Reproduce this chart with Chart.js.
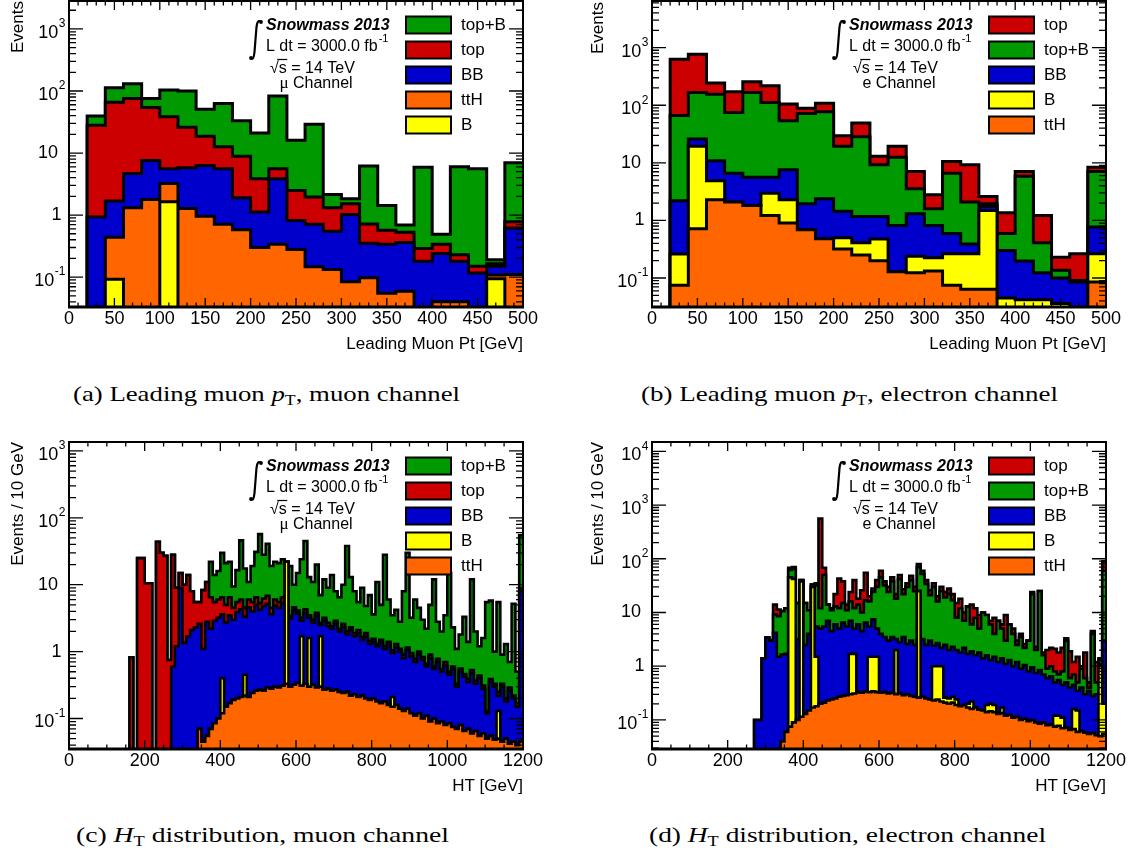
<!DOCTYPE html>
<html><head><meta charset="utf-8">
<script src="https://cdn.jsdelivr.net/npm/chart.js@4.4.1/dist/chart.umd.min.js"></script>
<style>
html,body{margin:0;padding:0;background:#fff;}
body{width:1131px;height:857px;position:relative;overflow:hidden;}
canvas{position:absolute;}
.cap{position:absolute;font-family:'Liberation Serif','Times New Roman',serif;font-size:21px;line-height:24px;color:#000;white-space:nowrap;transform-origin:0 50%;}
.cap sub{font-size:14px;vertical-align:-4px;line-height:0;font-style:normal}
</style></head><body>
<canvas id="pa" width="566" height="360" style="left:0;top:0"></canvas>
<canvas id="pb" width="551" height="360" style="left:580px;top:0"></canvas>
<canvas id="pc" width="566" height="380" style="left:0;top:425px"></canvas>
<canvas id="pd" width="551" height="380" style="left:580px;top:425px"></canvas>
<div class="cap" data-w="387" style="left:73px;top:382px">(a) Leading muon <i>p</i><sub>T</sub>, muon channel</div>
<div class="cap" data-w="417" style="left:641px;top:382px">(b) Leading muon <i>p</i><sub>T</sub>, electron channel</div>
<div class="cap" data-w="373" style="left:76px;top:823px">(c) <i>H</i><sub>T</sub> distribution, muon channel</div>
<div class="cap" data-w="397" style="left:649px;top:823px">(d) <i>H</i><sub>T</sub> distribution, electron channel</div>
<script>
// ---------- categories / bin edges ----------
const ptEdges = [0,20,40,60,80,100,120,140,160,180,200,220,240,260,280,300,320,340,360,380,400,420,440,460,480,500];
const htEdges = [0,10,20,30,40,50,60,70,80,90,100,110,120,130,140,150,160,170,180,190,200,210,220,230,240,250,260,270,280,290,300,310,320,330,340,350,360,370,380,390,400,410,420,430,440,450,460,470,480,490,500,510,520,530,540,550,560,570,580,590,600,610,620,630,640,650,660,670,680,690,700,710,720,730,740,750,760,770,780,790,800,810,820,830,840,850,860,870,880,890,900,910,920,930,940,950,960,970,980,990,1000,1010,1020,1030,1040,1050,1060,1070,1080,1090,1100,1110,1120,1130,1140,1150,1160,1170,1180,1190,1200];
// tick labels
const ptTicks = [0,50,100,150,200,250,300,350,400,450,500];
const htTicks = [0,200,400,600,800,1000,1200];
const logTicks3 = [0.1,1,10,100,1000];
const logTicks4 = [0.1,1,10,100,1000,10000];

// ---------- (a) leading muon pT, muon channel : stacked levels as drawn ----------
const a_B    = [0,0,0.092,0,0,1.64,0,0,0,0,0,0,0,0,0,0,0,0,0,0,0,0,0,0.094,0];
const a_ttH  = [0,0,0.44,1.31,1.79,3.24,1.28,0.96,0.71,0.58,0.30,0.34,0.28,0.147,0.133,0.084,0.098,0.055,0.059,0,0.04,0.04,0,0.108,0.11];
const a_BB   = [0,0.93,1.68,4.7,7.6,5.6,5.8,6.3,5.6,1.9,1.12,3.86,0.82,0.71,0.55,1.02,0.35,0.34,0.36,0.18,0.24,0.18,0.117,0.15,0.62];
const a_top  = [0,28,66,76,54,38.5,26,18.7,12.6,8.9,3.86,5.6,2.5,1.95,1.31,1.52,0.72,0.57,0.53,0.29,0.34,0.23,0.15,0.164,0.78];
const a_topB = [0,39.5,113,131,76,104,100,50.6,63,33,21,83,16,29,2.15,1.83,6.2,1.43,0.69,5.9,0.49,6.0,5.6,0.19,7.0];

// ---------- (b) leading muon pT, electron channel ----------
const b_ttH  = [0,0.075,0.72,2.28,2.08,1.82,1.22,0.90,0.69,0.48,0.32,0.25,0.20,0.128,0.123,0.133,0.075,0.064,0.064,0,0,0,0,0,0.085];
const b_B    = [0,0.26,19.4,4.9,2.08,1.82,2.97,2.28,0.69,0.48,0.50,0.41,0.475,0.128,0.238,0.226,0.265,0.265,1.49,0.045,0.042,0.042,0.036,0,0.265];
const b_BB   = [0,2.2,26,10.9,6.6,5.6,5.6,7.6,1.94,2.37,1.45,1.17,1.17,0.82,1.30,0.82,0.59,0.39,1.77,0.30,0.198,0.123,0.10,0.085,0.77];
const b_topB = [0,66,167,155,75,167,112,54,72,77,19.4,28.4,9.3,12.5,3.53,1.59,6.6,2.08,1.94,0.59,5.85,0.41,0.136,0.091,7.1];
const b_top  = [0,630,767,242,171,255,217,105,89,108,29.6,49,13,19.4,7.1,2.78,10.5,9.3,2.6,1.36,7.1,1.22,0.23,0.265,8.4];

// ---------- (c) HT, muon channel ----------
const c_ttH = [0,0,0,0,0,0,0,0,0,0,0,0,0,0,0,0,0,0,0,0,0,0,0,0,0,0,0,0,0,0,0,0,0,0,
 0.07,0.045,0.055,0.07,0.085,0.1,0.12,0.15,0.17,0.19,
 0.2,0.21,0.22,0.21,0.24,0.26,0.27,0.26,0.29,0.28,
 0.3,0.29,0.31,0.33,0.3,0.32,0.34,0.31,0.33,0.3,
 0.32,0.29,0.3,0.27,0.28,0.26,0.27,0.25,0.24,0.25,
 0.22,0.23,0.21,0.22,0.2,0.19,0.2,0.18,0.17,0.18,
 0.16,0.15,0.16,0.14,0.13,0.14,0.12,0.11,0.12,0.1,
 0.11,0.09,0.1,0.085,0.09,0.08,0.085,0.075,0.07,0.08,
 0.065,0.07,0.06,0.065,0.055,0.06,0.05,0.055,0.048,0.05,
 0.045,0.05,0.042,0.045,0.04,0.045];
const c_B = [0,0,0,0,0,0,0,0,0,0,0,0,0,0,0,0,0,0,0,0,0,0,0,0,0,0,0,0,0,0,0,0,0,0,
 0.07,0.045,0.055,0.07,0.085,0.1,0.4,0.15,0.17,0.19,
 0.2,0.21,0.45,0.21,0.24,0.26,0.27,0.26,0.29,0.28,
 0.3,0.29,0.31,22,0.3,0.32,0.34,1.7,0.33,1.6,
 0.32,0.29,1.7,0.27,0.28,0.26,0.27,0.25,0.24,0.25,
 0.22,0.23,0.21,0.22,0.2,0.19,0.2,0.18,0.17,0.18,
 0.16,0.21,0.16,0.14,0.13,0.14,0.12,0.11,0.12,0.1,
 0.11,0.09,0.1,0.085,0.09,0.08,0.085,0.075,0.07,0.08,
 0.065,0.07,0.06,0.065,0.055,0.06,0.05,0.055,0.048,0.13,
 0.045,0.05,0.042,0.045,0.04,0.045];
const c_BB = [0,0,0,0,0,0,0,0,0,0,0,0,0,0,0,0,0,0,0,0,0,0,0,0,0,0,0,
 0.6,1.2,9,1.35,1.7,2.1,2.3,2.6,1.1,2.8,
 2.2,2.9,3.2,3.6,2.7,3.5,3.0,3.9,4.3,3.3,
 4.6,4.0,5.0,4.2,4.8,5.2,3.6,4.9,4.5,5.3,
 22,3.1,4.2,3.7,2.9,3.8,3.2,2.7,3.4,2.5,
 2.9,2.4,2.2,2.6,2.0,2.3,1.8,2.1,1.7,1.9,
 1.5,1.7,1.3,1.4,1.2,1.35,1.1,1.25,0.95,1.15,
 1.0,0.8,1.05,0.85,0.7,0.9,0.75,0.6,0.8,0.55,
 0.7,0.5,0.62,0.45,0.55,0.3,0.5,0.42,0.35,0.48,
 0.33,0.4,0.28,0.12,0.35,0.3,0.22,0.3,0.18,0.26,
 0.2,0.15,8];
const c_top = [0,0,0,0,0,0,0,0,0,0,0,0,0,0,0,0,
 0.82,0,25,25,10.5,10.5,0,44,30,27,
 0.75,28,9,15,10,14,8,5.5,5.5,8.3,
 11,6.5,5.5,6,6.5,5,6.5,4.5,5.5,6,
 4.5,6,5.5,6.5,5.3,6.2,6.8,4.5,6,5.5,
 6.5,22,3.4,4.6,4.1,3.2,4.3,3.5,3.0,3.8,
 2.7,3.2,2.7,2.4,2.9,2.2,2.6,2.0,2.3,1.9,
 2.1,1.65,1.9,1.45,1.55,1.3,1.5,1.2,1.4,1.05,
 1.3,1.1,0.9,1.15,0.95,0.78,1.0,0.83,0.66,0.9,
 0.6,0.78,0.55,0.7,0.5,0.6,0.33,0.56,0.46,0.39,
 0.53,0.37,0.44,0.31,0.13,0.39,0.33,0.25,0.33,0.2,
 0.29,0.22,0.17,8.8];
const c_topB = [0,0,0,0,0,0,0,0,0,0,0,0,0,0,0,0,
 0.82,0,25,25,10.5,10.5,0,44,30,27,
 0.75,28,9,15,10,14,8,5.5,5.5,8.3,
 11,22,14,16,30,21,22,9.4,16.5,46,
 17.5,11,19,31,57,28,41,19,22,21,
 24,22,19,10,15,24,45,13,11,20,
 7,12,9,14,8,6.5,10,38,13,8,
 5.5,9,4.8,7,3.6,11,5,28,6,3.5,
 4.2,2.8,8,30,3.2,6,4.5,3.0,2.2,5,
 12,2.8,2.0,3.5,15,2.3,1.1,1.8,3.3,1.4,
 12,2.0,1.2,1.6,5.5,5.8,1.0,5.5,0.9,1.3,
 0.7,5.2,0.5,55];

// ---------- (d) HT, electron channel ----------
const d_ttH = [0,0,0,0,0,0,0,0,0,0,0,0,0,0,0,0,0,0,0,0,0,0,0,0,0,0,0,0,0,0,0,0,0,0,
 0.04,0.06,0.075,0.09,0.1,0.115,0.13,0.15,0.17,0.18,
 0.2,0.21,0.23,0.24,0.25,0.27,0.28,0.29,0.3,0.31,
 0.33,0.32,0.34,0.33,0.34,0.33,0.32,0.33,0.31,0.32,
 0.3,0.31,0.29,0.3,0.28,0.27,0.26,0.27,0.25,0.24,
 0.23,0.24,0.22,0.21,0.2,0.21,0.19,0.18,0.19,0.17,
 0.16,0.17,0.155,0.15,0.14,0.145,0.14,0.13,0.135,0.12,
 0.125,0.11,0.115,0.1,0.105,0.095,0.1,0.09,0.085,0.09,
 0.08,0.082,0.075,0.078,0.07,0.072,0.065,0.068,0.06,0.062,
 0.058,0.055,0.057,0.052,0.05,0.055];
const d_B = [0,0,0,0,0,0,0,0,0,0,0,0,0,0,0,0,0,0,0,0,0,0,0,0,0,0,0,0,0,0,0,0,0,0,
 0.04,0.06,45,42,0.1,38,0.13,0.15,30,1.5,
 0.2,0.21,0.23,0.24,0.25,0.27,0.28,0.29,1.7,1.7,
 0.33,0.32,0.34,1.5,1.5,1.5,0.32,0.33,0.31,0.32,
 2.0,0.31,0.29,0.3,0.28,0.27,25,0.27,0.25,0.24,
 1.0,1.0,1.0,0.26,0.25,0.27,0.24,0.18,0.19,0.2,
 0.22,0.17,0.155,0.15,0.19,0.2,0.19,0.13,0.17,0.12,
 0.125,0.11,0.115,0.1,0.105,0.095,0.1,0.09,0.085,0.09,
 0.08,0.082,0.12,0.12,0.11,0.072,0.065,0.16,0.15,0.062,
 0.058,0.055,0.057,0.052,1.0,0.2];
const d_BB = [0,0,0,0,0,0,0,0,0,0,0,0,0,0,0,0,0,0,0,0,0,0,0,0,0,0,0,
 0.1,0.1,1.4,3.4,3.0,4.2,1.5,1.65,1.7,45,
 42,3.2,38,2.5,4,30,5.5,5,5.5,7,
 4.5,6,5,6.5,5.5,7,5,6,4.5,6.5,
 5.5,7.5,5,4,3.5,3,3.5,3.2,2.8,3.5,
 2.6,3,2.5,25,3.2,2.5,3,2.4,2.7,2.2,
 2.5,2.0,2.3,2.0,1.8,2.2,1.7,1.9,1.6,1.8,
 1.4,1.6,1.3,1.5,1.2,1.4,1.1,1.3,1.0,1.2,
 0.9,1.05,0.8,0.95,0.75,0.85,0.7,0.6,0.65,0.5,
 0.55,0.45,0.5,0.4,0.45,0.35,0.4,0.3,0.35,0.28,
 0.3,1.1,3.0];
const d_topB = [0,0,0,0,0,0,0,0,0,0,0,0,0,0,0,0,0,0,0,0,0,0,0,0,0,0,0,
 0.1,0.1,1.4,3.4,3.0,9.2,8.5,10.6,12,62,
 65,15,40,15,11,33,32,12,50,14,
 11,13,12,15,11,16,12,14,10,17,
 16,24,30,45,32,24,38,18,42,22,
 30,40,25,70,52,34,21,30,16,25,
 19,22,17,8,12,7,13,6,8,5,
 10,9,6,4,7,5,3,6,4,2.5,
 3.5,2.2,3,22,2,25,1.6,0.9,1,0.8,
 0.7,0.8,3,0.6,0.7,0.5,0.9,0.6,0.4,4,
 0.5,1.3,60];
const d_top = [0,0,0,0,0,0,0,0,0,0,0,0,0,0,0,0,0,0,0,0,0,0,0,0,0,0,0,
 0.1,0.1,1.4,3.4,3.0,14,11.4,10.6,12,68,
 70,15,40,15,11,33,35,560,68,14,
 12,22,43,38,14,24,40,18,26,55,
 20,28,40,60,38,30,45,22,50,27,
 35,48,30,80,60,40,26,35,20,30,
 24,28,22,15,18,10,13,14,12,9,
 10,9,7,8,7,6,9,6,5,3,
 4,2.6,3,24,2.3,25,1.8,2,2.2,2.1,
 1.8,2.2,3.3,1.9,1.2,1.5,1.0,1.8,0.5,4.5,
 1.2,1.4,90];

// ---------- styling ----------
const COLORS = {'top+B':'#009900','top':'#cc0000','BB':'#0000cc','ttH':'#ff6600','B':'#ffff00'};
const SANS = "'Liberation Sans', Arial, Helvetica, sans-serif";
const FLOOR = 1e-5; // empty bins drawn below the axis minimum

function histPoints(edges, levels){
  const pts = levels.map((v,i)=>({x:edges[i], y: v>0 ? v : FLOOR}));
  const last = levels[levels.length-1];
  pts.push({x:edges[levels.length], y: last>0 ? last : FLOOR});
  return pts;
}

function drawInfo(ctx, R, T, chan){
  ctx.save();
  ctx.fillStyle='#000'; ctx.strokeStyle='#000';
  ctx.lineWidth=2.2; ctx.lineCap='round';
  ctx.beginPath();
  ctx.moveTo(R-262, T+21);
  ctx.quadraticCurveTo(R-265.5, T+17.5, R-266.5, T+26);
  ctx.lineTo(R-268.5, T+51);
  ctx.quadraticCurveTo(R-269.5, T+60, R-272, T+57);
  ctx.stroke();
  ctx.beginPath(); ctx.arc(R-262, T+21, 1.9, 0, 2*Math.PI); ctx.fill();
  ctx.beginPath(); ctx.arc(R-272, T+57, 1.9, 0, 2*Math.PI); ctx.fill();
  ctx.textAlign='left'; ctx.textBaseline='alphabetic';
  ctx.font = "italic bold 16px "+SANS;
  ctx.fillText('Snowmass 2013', R-257, T+29);
  ctx.font = "16px "+SANS;
  const s1 = 'L dt = 3000.0 fb';
  ctx.fillText(s1, R-257, T+50);
  const w1 = ctx.measureText(s1).width;
  ctx.font = "11px "+SANS;
  ctx.fillText('-1', R-257+w1+1, T+41);
  ctx.font = "16px "+SANS;
  const x0 = R-253;
  ctx.fillText('\u221A', x0, T+72);
  const wr = ctx.measureText('\u221A').width;
  ctx.fillText('s = 14 TeV', x0+wr, T+72);
  const ws = ctx.measureText('s').width;
  ctx.lineWidth=1.2; ctx.lineCap='butt';
  ctx.beginPath(); ctx.moveTo(x0+wr-1.5, T+58.5); ctx.lineTo(x0+wr+ws+0.5, T+58.5); ctx.stroke();
  const cx = R-207;
  if (chan==='mu'){
    ctx.font = "17px 'Liberation Serif', serif";
    const wm = ctx.measureText('\u03BC').width;
    ctx.font = "16px "+SANS;
    const wc = ctx.measureText(' Channel').width;
    const sx = cx - (wm+wc)/2;
    ctx.font = "17px 'Liberation Serif', serif";
    ctx.fillText('\u03BC', sx, T+87);
    ctx.font = "16px "+SANS;
    ctx.fillText(' Channel', sx+wm, T+87);
  } else {
    ctx.textAlign='center';
    ctx.fillText('e Channel', cx, T+87);
  }
  ctx.restore();
}

const decor = {
  id:'decor',
  afterDatasetsDraw(chart){
    const o = chart.options.plugins.decor;
    const ctx = chart.ctx, ca = chart.chartArea;
    const xs = chart.scales.x, ys = chart.scales.y;
    const L=ca.left, R=ca.right, T=ca.top, B=ca.bottom;
    ctx.save();
    ctx.strokeStyle='#000'; ctx.fillStyle='#000'; ctx.lineWidth=1.3;
    ctx.beginPath();
    const nMinor = Math.round((o.xMax-o.xMin)/o.xMinor);
    for (let i=0;i<=nMinor;i++){
      const v = o.xMin + i*o.xMinor;
      const px = xs.getPixelForValue(v);
      const major = (Math.round(v) % o.xMajor) === 0;
      const len = major ? 9 : 4.5;
      ctx.moveTo(px,B); ctx.lineTo(px,B-len);
      ctx.moveTo(px,T); ctx.lineTo(px,T+len);
    }
    const kLo=Math.floor(Math.log10(o.yMin)), kHi=Math.ceil(Math.log10(o.yMax));
    for (let k=kLo;k<=kHi;k++) for (let m=1;m<=9;m++){
      const v = m*Math.pow(10,k);
      if (v<o.yMin || v>o.yMax) continue;
      const py = ys.getPixelForValue(v);
      const len = m===1 ? 14 : 7;
      ctx.moveTo(L,py); ctx.lineTo(L+len,py);
      ctx.moveTo(R,py); ctx.lineTo(R-len,py);
    }
    ctx.stroke();
    ctx.lineWidth=2; ctx.strokeRect(L,T,R-L,B-T);
    ctx.lineWidth=3; ctx.beginPath(); ctx.moveTo(L-1,B); ctx.lineTo(R+1,B); ctx.stroke();
    ctx.font = "18px "+SANS; ctx.textAlign='center'; ctx.textBaseline='middle';
    o.xLabels.forEach(v=>{ ctx.fillText(String(v), xs.getPixelForValue(v), B+12); });
    o.yLabels.forEach(v=>{
      const py = ys.getPixelForValue(v);
      const k = Math.round(Math.log10(v));
      ctx.textBaseline='middle'; ctx.textAlign='right';
      if (k===0){ ctx.font="18px "+SANS; ctx.fillText('1', L-7.5, py); }
      else if (k===1){ ctx.font="18px "+SANS; ctx.fillText('10', L-11, py); }
      else {
        const ex = String(k);
        ctx.font="12px "+SANS; const we = ctx.measureText(ex).width;
        ctx.fillText(ex, L-3.5, py-5);
        ctx.font="18px "+SANS; ctx.fillText('10', L-3.5-we-0.5, py+4);
      }
    });
    ctx.font = "17px "+SANS; ctx.textBaseline='alphabetic'; ctx.textAlign='right';
    ctx.fillText(o.xTitle, R, B+42);
    ctx.save();
    if (o.yTitleStart!==undefined){
      ctx.translate(18, o.yTitleStart); ctx.rotate(-Math.PI/2);
      ctx.textAlign='left'; ctx.textBaseline='middle'; ctx.fillText(o.yTitle,0,0);
    } else {
      ctx.translate(18, T); ctx.rotate(-Math.PI/2);
      ctx.textAlign='right'; ctx.textBaseline='middle'; ctx.fillText(o.yTitle,0,0);
    }
    ctx.restore();
    const rows=[24,49,74,99,124];
    o.legend.forEach((name,i)=>{
      const cy = T+rows[i];
      ctx.fillStyle = COLORS[name];
      ctx.fillRect(R-117, cy-8.5, 45, 17);
      ctx.lineWidth=2; ctx.strokeStyle='#000';
      ctx.strokeRect(R-117, cy-8.5, 45, 17);
      ctx.fillStyle='#000'; ctx.font="17px "+SANS; ctx.textAlign='left'; ctx.textBaseline='middle';
      ctx.fillText(name, R-62, cy+0.5);
    });
    drawInfo(ctx, R, T, o.chan);
    ctx.restore();
  }
};

function makePanel(id, edges, stack, opt){
  const datasets = stack.map((s,i)=>({
    label: s[0],
    data: histPoints(edges, s[1]),
    order: i,
    stepped: true,
    fill: 'start',
    backgroundColor: COLORS[s[0]],
    borderColor: '#000',
    borderWidth: opt.lw,
    borderJoinStyle: 'miter',
    pointRadius: 0,
    tension: 0
  }));
  new Chart(document.getElementById(id), {
    type:'line',
    data:{datasets},
    options:{
      responsive:false, animation:false, devicePixelRatio:1, events:[],
      layout:{padding:opt.pad},
      scales:{
        x:{type:'linear', min:opt.xMin, max:opt.xMax, display:false},
        y:{type:'logarithmic', min:opt.yMin, max:opt.yMax, display:false}
      },
      plugins:{legend:{display:false}, tooltip:{enabled:false},
        decor: opt}
    },
    plugins:[decor]
  });
}

function build(){
  makePanel('pa', ptEdges,
    [['B',a_B],['ttH',a_ttH],['BB',a_BB],['top',a_top],['top+B',a_topB]],
    {pad:{left:69,right:43,top:1,bottom:53}, lw:3, xMin:0, xMax:500, xMajor:50, xMinor:10,
     yMin:0.033, yMax:2820, xLabels:ptTicks, yLabels:logTicks3,
     xTitle:'Leading Muon Pt [GeV]', yTitle:'Events', yTitleStart:53,
     legend:['top+B','top','BB','ttH','B'], chan:'mu'});
  makePanel('pb', ptEdges,
    [['ttH',b_ttH],['B',b_B],['BB',b_BB],['top+B',b_topB],['top',b_top]],
    {pad:{left:72,right:25,top:1,bottom:53}, lw:3, xMin:0, xMax:500, xMajor:50, xMinor:10,
     yMin:0.0314, yMax:6450, xLabels:ptTicks, yLabels:logTicks3,
     xTitle:'Leading Muon Pt [GeV]', yTitle:'Events', yTitleStart:54,
     legend:['top','top+B','BB','B','ttH'], chan:'e'});
  makePanel('pc', htEdges,
    [['ttH',c_ttH],['B',c_B],['BB',c_BB],['top',c_top],['top+B',c_topB]],
    {pad:{left:69,right:43,top:17,bottom:56}, lw:2.6, xMin:0, xMax:1200, xMajor:200, xMinor:50,
     yMin:0.035, yMax:1360, xLabels:htTicks, yLabels:logTicks3,
     xTitle:'HT [GeV]', yTitle:'Events / 10 GeV',
     legend:['top+B','top','BB','B','ttH'], chan:'mu'});
  makePanel('pd', htEdges,
    [['ttH',d_ttH],['B',d_B],['BB',d_BB],['top+B',d_topB],['top',d_top]],
    {pad:{left:72,right:25,top:17,bottom:56}, lw:2.6, xMin:0, xMax:1200, xMajor:200, xMinor:50,
     yMin:0.0288, yMax:14900, xLabels:htTicks, yLabels:logTicks4,
     xTitle:'HT [GeV]', yTitle:'Events / 10 GeV',
     legend:['top','top+B','BB','B','ttH'], chan:'e'});
  document.querySelectorAll('.cap').forEach(el=>{
    const w = el.getBoundingClientRect().width;
    el.style.transform = 'scaleX('+(+el.dataset.w / w)+')';
  });
}
if (document.fonts && document.fonts.ready) document.fonts.ready.then(build); else build();
</script>
</body></html>
